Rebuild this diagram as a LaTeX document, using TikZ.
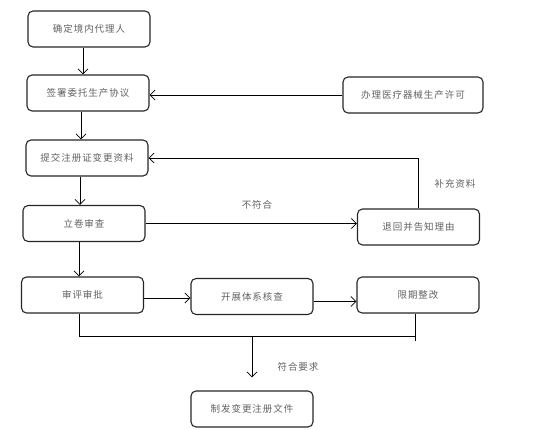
\documentclass[tikz,border=0pt]{standalone}
\usepackage{fontspec}
\newfontfamily\cjk[LetterSpace=10]{Noto Sans CJK SC}
\usetikzlibrary{arrows.meta,positioning}

\begin{document}
\begin{tikzpicture}[x=1pt, y=-1pt,
    every node/.style={font=\cjk\fontsize{9.5}{11}\selectfont, text=black!62},
    stepbox/.style={draw=black!85, line width=1.1pt, rounded corners=5pt,
        minimum width=122pt, minimum height=36pt, inner sep=0pt},
    >={Straight Barb[length=5pt,width=10pt]}, line width=0.8pt]
    \useasboundingbox (0,0) rectangle (540,430);

    % main column
    \node[stepbox] (dl) at (89,29) {确定境内代理人};
    \node[stepbox] (qs) at (88,93) {签署委托生产协议};
    \node[stepbox] (tj) at (87,158) {提交注册证变更资料};
    \node[stepbox] (lj) at (84,223.5) {立卷审查};
    \node[stepbox] (sp) at (82.5,295) {审评审批};

    % right and middle boxes
    \node[stepbox, minimum width=140pt] (xk) at (413,95) {办理医疗器械生产许可};
    \node[stepbox] (th) at (418.5,227) {退回并告知理由};
    \node[stepbox] (hc) at (252,296.5) {开展体系核查};
    \node[stepbox] (zg) at (418,295) {限期整改};
    \node[stepbox] (zf) at (252,409) {制发变更注册文件};

    % vertical flow
    \draw[->] ([xshift=-6pt]dl.south) -- ([xshift=-6pt]dl.south |- qs.north);
    \draw[->] ([xshift=-7pt]qs.south) -- ([xshift=-7pt]qs.south |- tj.north);
    \draw[->] ([xshift=-7pt]tj.south) -- ([xshift=-7pt]tj.south |- lj.north);
    \draw[->] ([xshift=-5pt]lj.south) -- ([xshift=-5pt]lj.south |- sp.north);

    % side branches
    \draw[->] (xk.west) -- (xk.west -| qs.east);
    \draw[->] (lj.east) -- (lj.east -| th.west);
    \node at (257,205) {不符合};
    \draw[->] (th.north) |- (tj.east);
    \node at (455,184) {补充资料};
    \draw[->] ([yshift=-3pt]sp.east) -- ([yshift=-3pt]sp.east -| hc.west);
    \draw[->] ([yshift=-5pt]hc.east) -- ([yshift=-5pt]hc.east -| zg.west);

    % merge to final
    \coordinate (jl) at (252,336);
    \draw ([xshift=-3.5pt]sp.south) -- ([xshift=-3.5pt]sp.south |- jl) -- ([xshift=-3pt]zg.south |- jl);
    \draw ([xshift=-3pt]zg.south) -- ++(0,27);
    \draw[->, shorten >=13pt] (jl) -- (zf.north);
    \node at (298,367) {符合要求};
\end{tikzpicture}
\end{document}
